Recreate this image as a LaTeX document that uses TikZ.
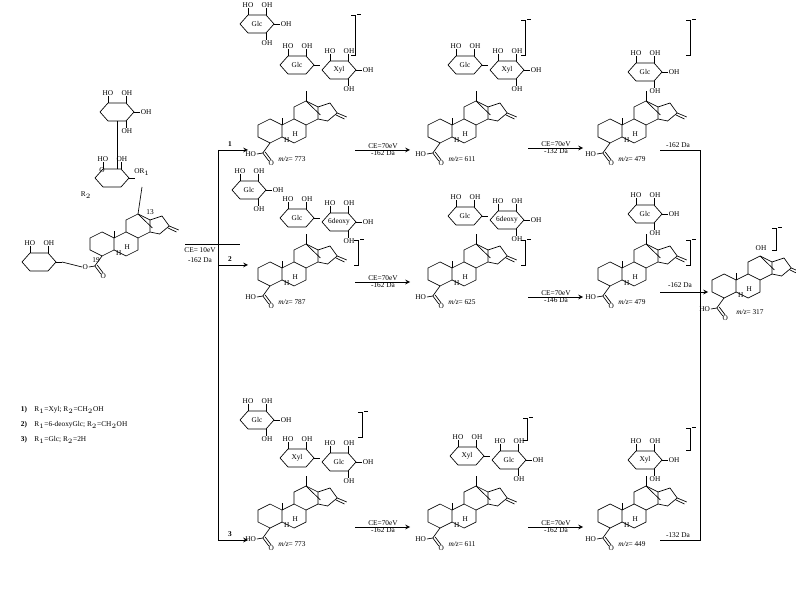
\documentclass[tikz,border=0pt]{standalone}
\usepackage{fontspec}
\setmainfont{Liberation Serif}
\usepackage{tikz}

\tikzset{
  lbl/.style={inner sep=0.5pt,font=\fontsize{5.5pt}{6pt}\selectfont},
  arr/.style={-stealth,line width=0.6pt},
  bond/.style={line width=0.5pt},
  pics/agly/.style={code={
   \begin{scope}[yscale=-1,xscale=1.2]
    \draw[bond] (0,0)--(10,-6)--(20,0)--(20,12)--(10,18)--(0,12)--cycle;
    \draw[bond] (20,0)--(30,-6)--(40,0)--(40,12)--(30,18)--(20,12);
    \draw[bond] (30,-6)--(30,-18)--(40,-24)--(50,-18)--(50,-6)--(40,0);
    \draw[bond] (50,-18)--(60,-22)--(66,-12)--(58,-4)--(50,-6);
    \draw[bond] (40,-24)--(52,-10);
    \draw[bond] (66,-12)--(74,-8) (65,-10)--(72,-6);
    \draw[bond] (20,0)--(20,-7);
    \node[lbl] at (31,9) {H};
    \node[lbl] at (24,15) {H};
    \draw[bond] (10,18)--(4,28) (4,28)--(9,36) (6,27)--(11,35);
    \draw[bond] (4,28)--(-1,29);
    \node[lbl,anchor=east] at (-1,29) {#1};
    \node[lbl] at (11,38) {O};
   \end{scope}
  }},
  pics/agly/.default=HO,
  pics/sug/.style={code={
   \begin{scope}[yscale=-1]
    \draw[bond] (0,0)--(8,-9)--(26,-9)--(34,0)--(26,9)--(8,9)--cycle;
    \node[lbl] at (17,0) {#1};
    \draw[bond] (8,-9)--(8,-16) (26,-9)--(26,-16) (34,0)--(40,0) (26,9)--(26,16);
    \node[lbl] at (8,-19) {HO};
    \node[lbl] at (27,-19) {OH};
    \node[lbl,anchor=west] at (40,0) {OH};
    \node[lbl] at (27,19) {OH};
   \end{scope}
  }},
  pics/sugl/.style={code={
   \begin{scope}[yscale=-1]
    \draw[bond] (0,0)--(8,-9)--(26,-9)--(34,0)--(26,9)--(8,9)--cycle;
    \node[lbl] at (17,0) {#1};
    \draw[bond] (8,-9)--(8,-16) (26,-9)--(26,-16) (34,0)--(40,0);
    \node[lbl] at (8,-19) {HO};
    \node[lbl] at (27,-19) {OH};
   \end{scope}
  }},
}

\begin{document}
\begin{tikzpicture}[x=0.75pt,y=0.75pt,yscale=-1,xscale=1]
\useasboundingbox (0,0) rectangle (796,591);

% start structure
\pic at (90,238) {agly=O};
\pic at (100,112) {sug={}};
\pic at (95,178) {sugl={}};
\node[lbl] at (102,170) {O};
\node[lbl] at (86,195) {R$_2$};
\node[lbl] at (142,172) {OR$_1$};
\node[lbl] at (96,260) {19};
\node[lbl] at (150,212) {13};
\draw[bond] (117,121)--(117,169);
\draw[bond] (142,187)--(138,214);
\pic at (22,262) {sugl={}};
\draw[bond] (62,262)--(82,267);
\node[lbl,anchor=west] at (20,410) {\textbf{1)}\quad R$_1$=Xyl; R$_2$=CH$_2$OH};
\node[lbl,anchor=west] at (20,425) {\textbf{2)}\quad R$_1$=6-deoxyGlc; R$_2$=CH$_2$OH};
\node[lbl,anchor=west] at (20,440) {\textbf{3)}\quad R$_1$=Glc; R$_2$=2H};

% branching
\coordinate (s0) at (185,244);
\coordinate (b1) at (218,150);
\coordinate (b3) at (218,540);
\draw[bond] (s0)--(240,244);
\draw[bond] (b1)--(b3);
\node[lbl] at (200,250) {CE= 10eV};
\node[lbl] at (200,260) {-162 Da};
\draw[arr] (b1)--(248,150) node[lbl,pos=0.4,above=2pt] {\textbf{1}};
\draw[arr] (218,265)--(248,265) node[lbl,pos=0.4,above=2pt] {\textbf{2}};
\draw[arr] (b3)--(248,540) node[lbl,pos=0.4,above=2pt] {\textbf{3}};

% products
\foreach \px/\py/\mz in {258/125/773, 428/125/611, 598/125/479,
                          258/268/787, 428/268/625, 598/268/479,
                          258/510/773, 428/510/611, 598/510/449}{
  \pic at (\px,\py) {agly};
  \node[lbl] at (\px+34,\py+34) {\textit{m/z}= \mz};
  \draw[bond] (\px+48,\py-24)--(\px+48,\py-34);
}
\pic at (712,280) {agly};
\node[lbl] at (750,312) {\textit{m/z}= 317};
\node[lbl] at (761,248) {OH};

% sugars
\pic at (280,65) {sugl=Glc};
\pic at (322,70) {sug=Xyl};
\pic at (240,24) {sug=Glc};
\pic at (448,65) {sugl=Glc};
\pic at (490,70) {sug=Xyl};
\pic at (628,72) {sug=Glc};
\pic at (232,190) {sug=Glc};
\pic at (280,218) {sugl=Glc};
\pic at (322,222) {sug=6deoxy};
\pic at (448,216) {sugl=Glc};
\pic at (490,220) {sug=6deoxy};
\pic at (628,214) {sug=Glc};
\pic at (240,420) {sug=Glc};
\pic at (280,458) {sugl=Xyl};
\pic at (322,462) {sug=Glc};
\pic at (450,456) {sugl=Xyl};
\pic at (492,460) {sug=Glc};
\pic at (628,460) {sug=Xyl};

% brackets
\foreach \bx/\ya/\yb in {355/15/55, 525/20/55, 690/20/55,
                         358/240/265, 525/240/265, 690/240/265,
                         362/412/437, 527/418/440, 690/428/450,
                         776/228/250}{
  \draw[bond] (\bx-4,\ya)--(\bx,\ya)--(\bx,\yb)--(\bx-4,\yb);
  \draw[bond] (\bx+2,\ya-1)--(\bx+6,\ya-1);
}

% fragmentation arrows
\foreach \ax/\ay/\ca/\da in {355/150/70/162, 528/148/70/132,
                             355/282/70/162, 528/297/70/146,
                             355/527/70/162, 528/527/70/162}{
  \draw[arr] (\ax,\ay)--(\ax+55,\ay);
  \node[lbl,anchor=south] at (\ax+28,\ay) {CE=\ca eV};
  \node[lbl,anchor=north] at (\ax+28,\ay) {-\da\ Da};
}
\coordinate (j1) at (700,150);
\coordinate (j3) at (700,540);
\draw[bond] (660,150)--(j1)--(j3)--(660,540);
\draw[arr] (660,292)--(708,292);
\node[lbl] at (678,145) {-162 Da};
\node[lbl] at (680,285) {-162 Da};
\node[lbl] at (678,535) {-132 Da};
\end{tikzpicture}
\end{document}
